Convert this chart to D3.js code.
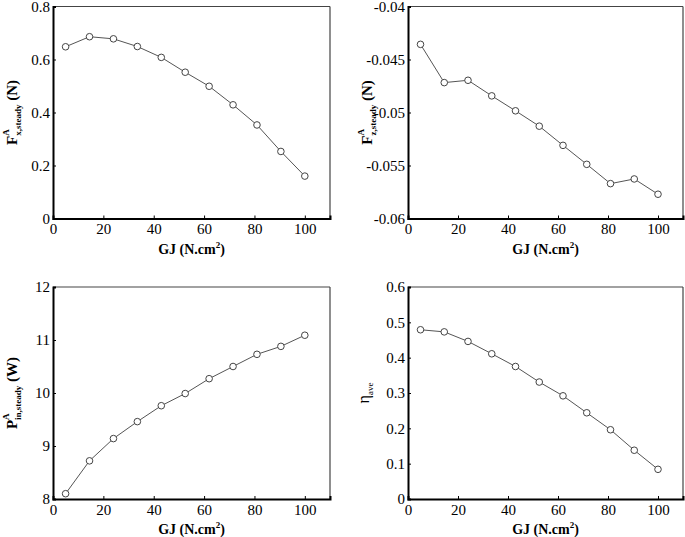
<!DOCTYPE html>
<html><head><meta charset="utf-8">
<script src="https://cdn.jsdelivr.net/npm/d3@7/dist/d3.min.js"></script>
<style>
body{margin:0;background:#fff;}
svg text, svg tspan{font-family:'Liberation Serif','DejaVu Serif',serif !important;}
</style></head>
<body><svg id="c" width="685" height="537"></svg>
<script>
const gj = [5, 14.5, 24, 33.5, 43, 52.5, 62, 71.5, 81, 90.5, 100];
const fx = [0.648, 0.686, 0.678, 0.649, 0.608, 0.552, 0.499, 0.429, 0.353, 0.253, 0.160];
const fz = [-0.04357, -0.04718, -0.04696, -0.04843, -0.04984, -0.05129, -0.05310, -0.05489, -0.05671, -0.05627, -0.05771];
const pin = [8.10, 8.72, 9.14, 9.46, 9.76, 9.99, 10.27, 10.50, 10.73, 10.88, 11.09];
const eta = [0.479, 0.473, 0.446, 0.411, 0.375, 0.331, 0.292, 0.244, 0.196, 0.138, 0.084];
const xTicks = [0, 20, 40, 60, 80, 100];
const fxTicks = [0, 0.2, 0.4, 0.6, 0.8];
const fzTicks = [-0.06, -0.055, -0.05, -0.045, -0.04];
const pinTicks = [8, 9, 10, 11, 12];
const etaTicks = [0, 0.1, 0.2, 0.3, 0.4, 0.5, 0.6];

const svg = d3.select("#c");
const FF = "'Liberation Serif','DejaVu Serif',serif";

function panel(o){
  const x = d3.scaleLinear().domain([0,110]).range([o.l, o.r]);
  const y = d3.scaleLinear().domain(o.yd).range([o.b, o.t]);
  const g = svg.append("g");
  g.append("line").attr("x1",o.l).attr("x2",o.r).attr("y1",o.t).attr("y2",o.t).attr("stroke","#444").attr("stroke-width",1.2);
  g.append("line").attr("x1",o.r).attr("x2",o.r).attr("y1",o.t).attr("y2",o.b).attr("stroke","#444").attr("stroke-width",1.2);
  const xa = g.append("g").attr("transform",`translate(0,${o.b})`)
    .call(d3.axisBottom(x).tickValues(xTicks).tickSize(-3).tickPadding(5).tickFormat(d3.format("d")));
  const ya = g.append("g").attr("transform",`translate(${o.l},0)`)
    .call(d3.axisLeft(y).tickValues(o.ticks).tickSize(-3).tickPadding(3).tickFormat(o.fmt));
  [xa,ya].forEach(a=>{
    a.attr("font-family",FF).attr("font-size",15);
    a.select(".domain").attr("stroke","#000").attr("stroke-width",2);
    a.selectAll(".tick line").attr("stroke","#000").attr("stroke-width",1);
    a.selectAll(".tick text").attr("fill","#000");
  });
  ya.selectAll(".tick text").attr("dy","0.33em");
  const xl = g.append("text").attr("x",(o.l+o.r)/2).attr("y",o.b+35).attr("font-family",FF)
    .attr("text-anchor","middle").attr("font-size",14).attr("font-weight","bold");
  xl.append("tspan").text("GJ (N.cm");
  xl.append("tspan").text("2").attr("font-size",9).attr("dy",-6);
  xl.append("tspan").text(")").attr("dy",6);
  const yl = g.append("text").attr("transform",`translate(${o.yl},${(o.t+o.b)/2}) rotate(-90)`)
    .attr("text-anchor","middle").attr("font-family",FF);
  o.ylab(yl);
  const data = gj.map((v,i)=>[v,o.vals[i]]);
  g.append("path").datum(data).attr("fill","none").attr("stroke","#555").attr("stroke-width",1)
    .attr("d",d3.line().x(d=>x(d[0])).y(d=>y(d[1])));
  g.selectAll("circle.p").data(data).enter().append("circle")
    .attr("cx",d=>x(d[0])).attr("cy",d=>y(d[1])).attr("r",3.3)
    .attr("fill","#fff").attr("stroke","#444").attr("stroke-width",1);
}

function stackLabel(main, sub, unit){
  return function(t){
    t.attr("font-weight","bold").attr("font-size",15);
    t.append("tspan").text(main);
    t.append("tspan").text("A").attr("font-size",9).attr("dy",-8);
    t.append("tspan").text(sub).attr("font-size",9).attr("dx",-6.5).attr("dy",12);
    t.append("tspan").text(" " + unit).attr("font-size",15).attr("dy",-4);
  };
}

panel({l:53,r:330,t:6.5,b:218.5,yd:[0,0.8],ticks:fxTicks,fmt:d=>d===0?"0":d3.format(".1f")(d),vals:fx,yl:17,
  ylab:stackLabel("F","x,steady","(N)")});
panel({l:408,r:683,t:6.5,b:218.5,yd:[-0.06,-0.04],ticks:fzTicks,fmt:d=>String(+d.toFixed(3)),vals:fz,yl:372,
  ylab:stackLabel("F","z,steady","(N)")});
panel({l:53,r:330,t:287,b:499,yd:[8,12],ticks:pinTicks,fmt:d3.format("d"),vals:pin,yl:17,
  ylab:stackLabel("P","in,steady","(W)")});
panel({l:408,r:683,t:287,b:499,yd:[0,0.6],ticks:etaTicks,fmt:d=>d===0?"0":d3.format(".1f")(d),vals:eta,yl:369,
  ylab:function(t){
    t.attr("font-size",16);
    t.append("tspan").text("η");
    t.append("tspan").text("ave").attr("font-size",9).attr("dy",4);
  }});
</script></body></html>
